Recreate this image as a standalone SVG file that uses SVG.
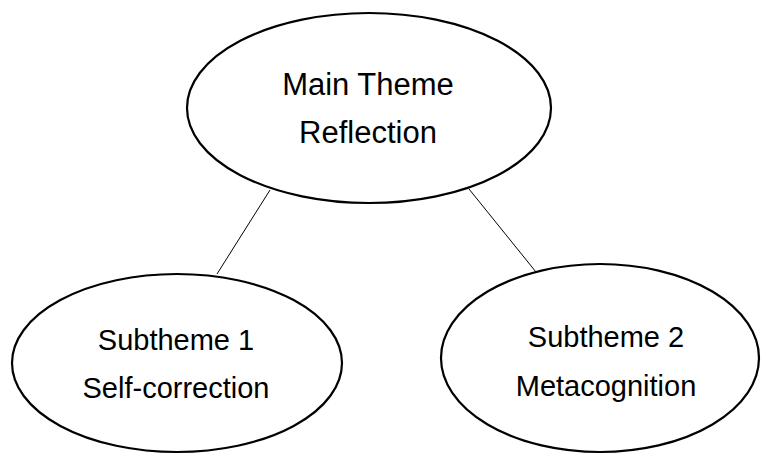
<svg xmlns="http://www.w3.org/2000/svg" width="761" height="454" viewBox="0 0 761 454">
  <style>
    .node ellipse { fill: #ffffff; stroke: #000000; stroke-width: 2.2; }
    .node text { font-family: "Liberation Sans", Arial, sans-serif; fill: #000000; text-anchor: middle; }
    .main text { font-size: 31px; }
    .sub text { font-size: 29px; }
    #connectors line { stroke: #000000; stroke-width: 1; }
  </style>
  <rect width="761" height="454" fill="#ffffff"/>
  <g id="connectors">
    <line x1="270" y1="190" x2="217" y2="274"/>
    <line x1="469" y1="189" x2="536" y2="272"/>
  </g>
  <g id="main-theme" class="node main">
    <ellipse cx="369" cy="108" rx="182" ry="95"/>
    <text x="368" y="95">Main Theme</text>
    <text x="368" y="143">Reflection</text>
  </g>
  <g id="subtheme-1" class="node sub">
    <ellipse cx="177" cy="363" rx="165" ry="89"/>
    <text x="176" y="350">Subtheme 1</text>
    <text x="176" y="398">Self-correction</text>
  </g>
  <g id="subtheme-2" class="node sub">
    <ellipse cx="600" cy="358" rx="159" ry="94"/>
    <text x="606" y="347">Subtheme 2</text>
    <text x="606" y="396">Metacognition</text>
  </g>
</svg>
